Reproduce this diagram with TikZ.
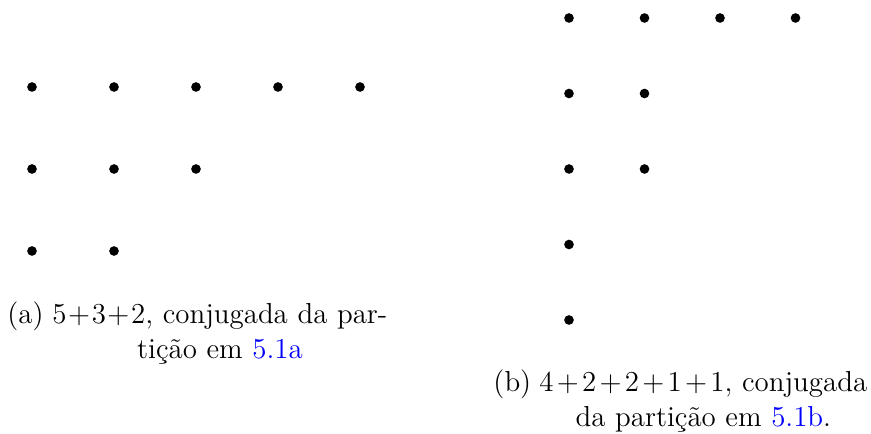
\documentclass[tikz,border=0pt]{standalone}
\usepackage{fontspec}
\usepackage{xcolor}
\usetikzlibrary{positioning}

\begin{document}
\begin{tikzpicture}[x=0.415pt,y=-0.415pt,
  dot/.style={circle,fill=black,inner sep=0pt,minimum size=4pt},
  capt/.style={inner sep=0pt,font=\fontsize{12}{14.5}\selectfont},
  capttext/.style={capt,anchor=base west,align=center}]
\useasboundingbox (0,0) rectangle (871,434);
% (a) diagrama 5+3+2
\foreach \n [count=\r] in {5,3,2}
  \foreach \c in {1,...,\n}
    \node[dot] (a-\r-\c) at ({32+82*(\c-1)},{87+82*(\r-1)}) {};
% (b) diagrama 4+2+2+1+1
\foreach \n [count=\r] in {4,2,2,1,1}
  \foreach \c in {1,...,\n}
    \node[dot] (b-\r-\c) at ({569+75.5*(\c-1)},{18+75.5*(\r-1)}) {};
% legendas
\node[capt,anchor=base west] (la) at (7,324) {(a)};
\node[capttext,text width=139pt] (ta) at (52,324)
  {$5+3+2$, conjugada da par-\\ti\c{c}ão em \textcolor{blue}{5.1a}};
\node[capt,anchor=base west] (lb) at (493,391.7) {(b)};
\node[capttext,text width=136pt] (tb) at (539,391.7)
  {$4+2+2+1+1$, conjugada\\da partição em \textcolor{blue}{5.1b}.};
\end{tikzpicture}
\end{document}
